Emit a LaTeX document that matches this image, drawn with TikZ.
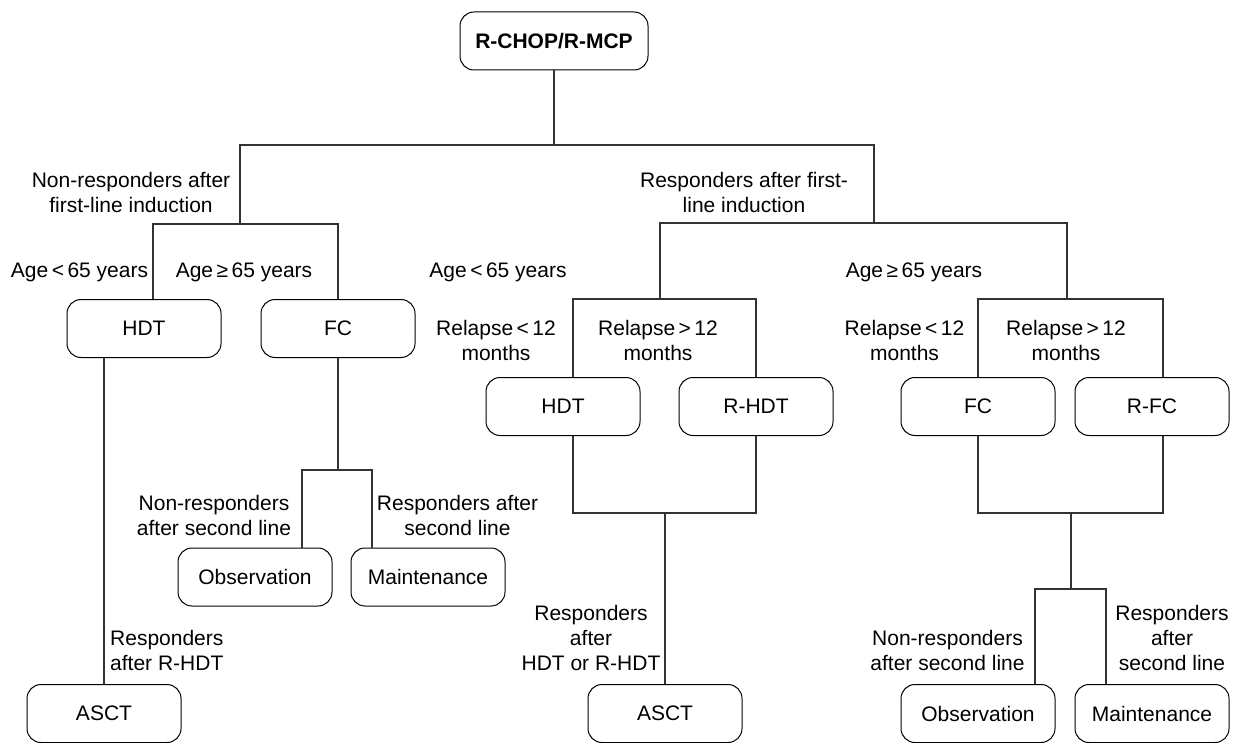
\documentclass[tikz,border=0pt]{standalone}
\usepackage{fontspec}
\setmainfont{Liberation Sans}
\begin{document}
\begin{tikzpicture}[x=1pt,y=-1pt,
    every node/.style={font=\fontsize{21}{25}\selectfont},
    box/.style={draw, rounded corners=14pt, minimum width=154pt, minimum height=58pt, line width=1pt},
    lbl/.style={align=center, inner sep=0pt},
    link/.style={line width=1.1pt, black!80}]
    \useasboundingbox (0,0) rectangle (1238,743);

    % treatment boxes
    \node[box, minimum width=188pt] (top) at (554,41) {\textbf{R-CHOP/R-MCP}};
    \node[box] (hdtL) at (144,328.5) {HDT};
    \node[box] (fcL) at (338,328.5) {FC};
    \node[box] (obsL) at (255,577) {Observation};
    \node[box] (mntL) at (428,577) {Maintenance};
    \node[box] (asctL) at (104,713.5) {ASCT};
    \node[box] (hdtM) at (563,406.5) {HDT};
    \node[box] (rhdt) at (756,406.5) {R-HDT};
    \node[box] (asctM) at (665,713.5) {ASCT};
    \node[box] (fcR) at (978,406.5) {FC};
    \node[box] (rfc) at (1152,406.5) {R-FC};
    \node[box] (obsR) at (978,713.5) {Observation};
    \node[box] (mntR) at (1152,713.5) {Maintenance};

    % junctions
    \coordinate (j0) at (554,145);
    \coordinate (jL) at (240,224);
    \coordinate (jR) at (874,223);
    \coordinate (jRL) at (660,299);
    \coordinate (jRR) at (1067,299);
    \coordinate (jLo) at (338,470);
    \coordinate (jM) at (665,513);
    \coordinate (jRb) at (1071,513);
    \coordinate (jRo) at (1071,589);

    % labels
    \node[lbl] (nrfirst) at (131,192.5) {Non-responders after\\first-line induction};
    \node[lbl] (rfirst) at (744,192.5) {Responders after first-\\line induction};
    \node[lbl] (ageLa) at (79.5,272) {Age\,<\,65 years};
    \node[lbl] (ageLb) at (244,272) {Age\,≥\,65 years};
    \node[lbl] (ageRa) at (498,272) {Age\,<\,65 years};
    \node[lbl] (ageRb) at (914,272) {Age\,≥\,65 years};
    \node[lbl] (relMa) at (496,340.5) {Relapse\,<\,12\\months};
    \node[lbl] (relMb) at (658,340.5) {Relapse\,>\,12\\months};
    \node[lbl] (relRa) at (904.5,340.5) {Relapse\,<\,12\\months};
    \node[lbl] (relRb) at (1066,340.5) {Relapse\,>\,12\\months};
    \node[lbl] (nrsecL) at (214,515.5) {Non-responders\\after second line};
    \node[lbl] (rsecL) at (457.5,515.5) {Responders after\\second line};
    \node[lbl, anchor=west, align=left] (rrhdt) at (110,650.5) {Responders\\after R-HDT};
    \node[lbl] (rhdtor) at (591,638) {Responders\\after\\HDT or R-HDT};
    \node[lbl] (nrsecR) at (947.5,650.5) {Non-responders\\after second line};
    \node[lbl] (rsecR) at (1172,638) {Responders\\after\\second line};

    % connectors
    \draw[link] (top.south) -- (j0);
    \draw[link] (jL) -- (jL |- j0) -- (jR |- j0) -- (jR);
    \draw[link] ([xshift=9pt]hdtL.north) |- (jL) -| (fcL.north);
    \draw[link] (asctL.north |- hdtL.south) -- (asctL.north);
    \draw[link] (fcL.south) -- (jLo);
    \draw[link] ([xshift=47pt]obsL.north) |- (jLo) -| ([xshift=-56pt]mntL.north);
    \draw[link] (jRL) |- (jR) -| (jRR);
    \draw[link] ([xshift=10pt]hdtM.north) |- (jRL) -| (rhdt.north);
    \draw[link] ([xshift=10pt]hdtM.south) |- (jM) -| (rhdt.south);
    \draw[link] (jM) -- (asctM.north);
    \draw[link] (fcR.north) |- (jRR) -| ([xshift=11pt]rfc.north);
    \draw[link] (fcR.south) |- (jRb) -| ([xshift=11pt]rfc.south);
    \draw[link] (jRb) -- (jRo);
    \draw[link] ([xshift=57pt]obsR.north) |- (jRo) -| ([xshift=-46pt]mntR.north);
\end{tikzpicture}
\end{document}
